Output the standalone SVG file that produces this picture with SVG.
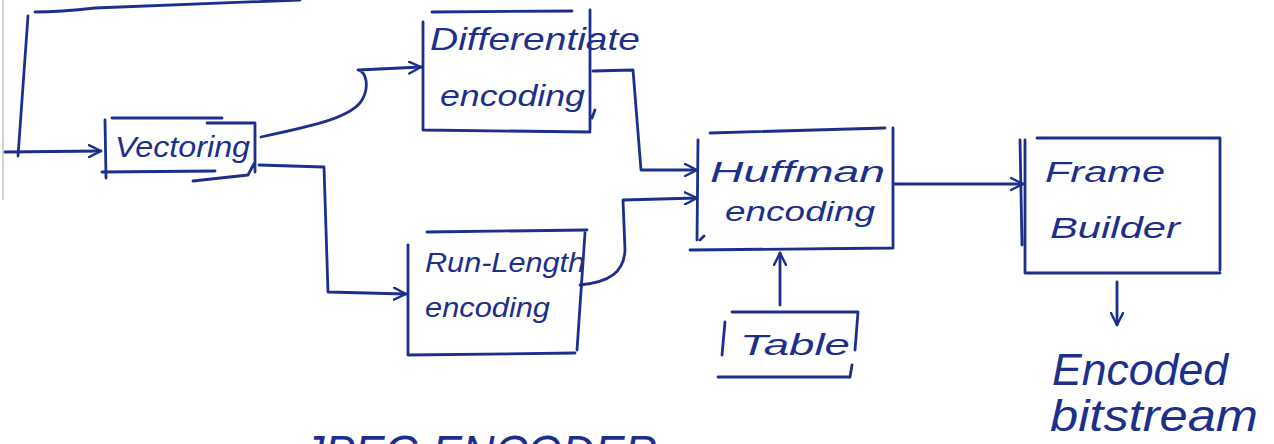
<svg xmlns="http://www.w3.org/2000/svg" width="1274" height="444" viewBox="0 0 1274 444">
  <defs>
    <style>
      .ink { fill: none; stroke: #1d2f8c; stroke-width: 2.8; stroke-linecap: round; stroke-linejoin: round; }
      .lbl { fill: #1d2f8c; font-family: "Liberation Sans", "DejaVu Sans", sans-serif; font-style: italic; }
    </style>
    <marker id="arrow" viewBox="0 0 14 14" refX="13" refY="7" markerWidth="14" markerHeight="14" markerUnits="userSpaceOnUse" orient="auto">
      <path d="M1,1 L13,7 L1,13" fill="none" stroke="#1d2f8c" stroke-width="2.4" stroke-linecap="round" stroke-linejoin="round"/>
    </marker>
  </defs>

  <rect width="1274" height="444" fill="#ffffff"/>
  <!-- page edge -->
  <line x1="3" y1="0" x2="3" y2="200" stroke="#c8c8c8" stroke-width="1.5"/>

  <!-- connectors -->
  <g id="connectors">
    <!-- feedback loop back into the vectoring stage -->
    <path class="ink" d="M300,0 L95,8 Q60,12 35,12 M28,16 L18,156"/>
    <path class="ink" d="M5,152 L101,151" marker-end="url(#arrow)"/>
    <!-- vectoring to differential encoding -->
    <path class="ink" d="M261,137 C300,128 350,120 362,100 C370,86 366,72 358,70 L421,67" marker-end="url(#arrow)"/>
    <!-- vectoring to run-length encoding -->
    <path class="ink" d="M259,165 L324,167 L328,292 L406,294" marker-end="url(#arrow)"/>
    <!-- differential encoding to Huffman -->
    <path class="ink" d="M593,71 L633,70 L641,170 L697,170" marker-end="url(#arrow)"/>
    <!-- run-length encoding to Huffman -->
    <path class="ink" d="M580,285 C610,282 624,272 625,250 L623,200 L697,198" marker-end="url(#arrow)"/>
    <!-- table into Huffman -->
    <path class="ink" d="M780,305 L780,253" marker-end="url(#arrow)"/>
    <!-- Huffman to frame builder -->
    <path class="ink" d="M895,184 L1023,184" marker-end="url(#arrow)"/>
    <!-- frame builder output -->
    <path class="ink" d="M1117,282 L1117,325" marker-end="url(#arrow)"/>
  </g>

  <g id="vectoring">
    <path class="ink" d="M112,118 L222,118 M105,120 L106,178 M207,123 L255,123 L255,172 M102,172 L215,171 M193,181 L248,175 L255,162"/>
    <text class="lbl" x="115" y="157" font-size="30" textLength="135" lengthAdjust="spacingAndGlyphs">Vectoring</text>
  </g>

  <g id="differential">
    <path class="ink" d="M432,12 L572,11 M423,22 L423,130 L590,132 M590,10 L590,130 M595,110 L592,118"/>
    <text class="lbl" x="430" y="50" font-size="32" textLength="210" lengthAdjust="spacingAndGlyphs">Differentiate</text>
    <text class="lbl" x="440" y="106" font-size="30" textLength="145" lengthAdjust="spacingAndGlyphs">encoding</text>
  </g>

  <g id="runlength">
    <path class="ink" d="M427,232 L587,230 M408,245 L408,355 L575,353 M585,233 L577,350"/>
    <text class="lbl" x="425" y="272" font-size="28" textLength="160" lengthAdjust="spacingAndGlyphs">Run-Length</text>
    <text class="lbl" x="425" y="317" font-size="28" textLength="125" lengthAdjust="spacingAndGlyphs">encoding</text>
  </g>

  <g id="huffman">
    <path class="ink" d="M710,133 L885,128 M698,140 L697,240 M690,250 L893,248 L893,128 M704,236 L700,240"/>
    <text class="lbl" x="710" y="182" font-size="30" textLength="175" lengthAdjust="spacingAndGlyphs">Huffman</text>
    <text class="lbl" x="725" y="221" font-size="28" textLength="150" lengthAdjust="spacingAndGlyphs">encoding</text>
  </g>

  <g id="table">
    <path class="ink" d="M732,312 L858,312 L855,350 M725,322 L722,355 M718,377 L850,377 L852,365"/>
    <text class="lbl" x="740" y="355" font-size="30" textLength="110" lengthAdjust="spacingAndGlyphs">Table</text>
  </g>

  <g id="framebuilder">
    <path class="ink" d="M1037,138 L1220,138 L1220,270 M1025,140 L1025,273 L1220,273 M1020,140 L1022,245"/>
    <text class="lbl" x="1045" y="182" font-size="30" textLength="120" lengthAdjust="spacingAndGlyphs">Frame</text>
    <text class="lbl" x="1050" y="238" font-size="30" textLength="130" lengthAdjust="spacingAndGlyphs">Builder</text>
  </g>

  <g id="output">
    <text class="lbl" x="1052" y="385" font-size="44" textLength="176" lengthAdjust="spacingAndGlyphs">Encoded</text>
    <text class="lbl" x="1050" y="431" font-size="44" textLength="208" lengthAdjust="spacingAndGlyphs">bitstream</text>
  </g>

  <!-- title runs past the bottom edge of the sheet -->
  <g id="title">
    <text class="lbl" x="302" y="469" font-size="48" textLength="355" lengthAdjust="spacingAndGlyphs">JPEG ENCODER</text>
  </g>
</svg>
